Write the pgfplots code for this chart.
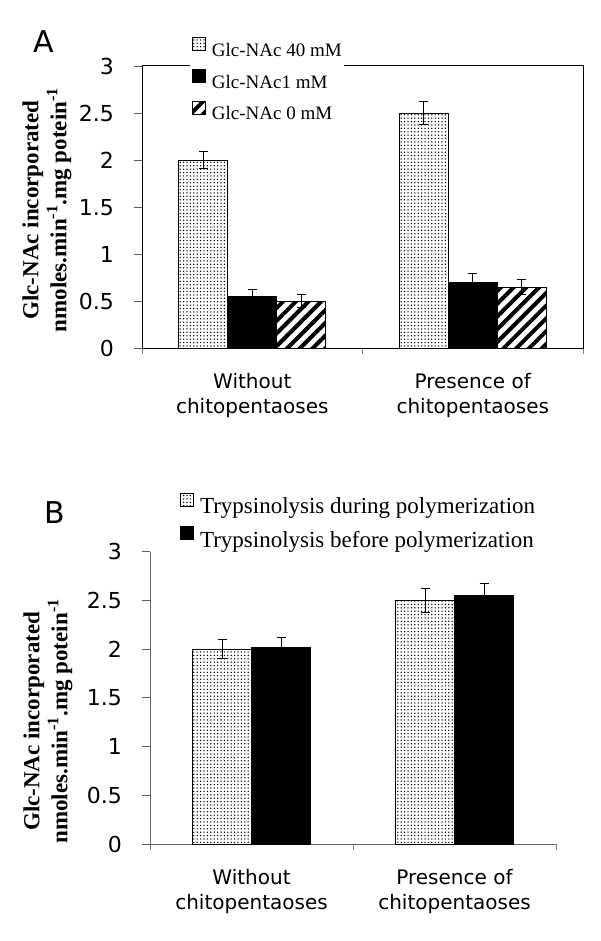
\documentclass[border=0pt]{standalone}
\usepackage{pgfplots}
\pgfplotsset{compat=1.18}
\usepackage{fontspec}
\setmainfont{Liberation Serif}
\newfontfamily\verd{DejaVu Sans}
\usetikzlibrary{patterns,patterns.meta}

\pgfplotsset{
  common/.style={
    scale only axis,
    ybar=0pt,
    xmin=-0.5, xmax=1.5, ymin=0, ymax=3,
    xtick={0,1},
    xticklabels={{Without\\chitopentaoses},{Presence of\\chitopentaoses}},
    minor xtick={-0.5,0.5,1.5},
    ytick={0,0.5,1,1.5,2,2.5,3},
    tick align=outside, xtick pos=bottom, ytick pos=left,
    major x tick style={draw=none},
    minor x tick style={gray, line width=0.8pt},
    minor tick length=6pt, major tick length=8pt,
    y tick style={gray!70!black, line width=0.8pt},
    /pgf/number format/assume math mode=true,
    xticklabel style={font=\verd\fontsize{20}{25}\selectfont, align=center, inner sep=0pt, anchor=north, yshift=-17pt},
    yticklabel style={font=\verd\fontsize{22}{24}\selectfont, inner sep=0pt, anchor=east, xshift=-20pt},
    error bars/y dir=both, error bars/y explicit,
    error bars/error bar style={line width=1pt, black},
    error bars/error mark options={rotate=90, mark size=4.5pt, line width=1pt, black},
    legend image code/.code={\draw[##1, line width=0.8pt] (0pt,0pt) rectangle (13pt,13pt);},
    legend cell align=left,
    ylabel style={anchor=center, align=center, font=\bfseries\fontsize{23}{28}\selectfont},
  },
  dotbar/.style={draw=black, line width=1pt, pattern={Dots[radius=0.75pt, distance=3.4pt]}},
  blackbar/.style={draw=black, line width=1pt, fill=black},
  hatchbar/.style={draw=black, line width=1pt, pattern={Lines[angle=45, distance=9pt, line width=4pt]}},
}

\begin{document}
\begin{tikzpicture}
\path[use as bounding box] (0pt,0pt) rectangle (600pt,-941pt);

\node[font=\verd\fontsize{30}{30}\selectfont] at (44pt,-42pt) {A};
\node[font=\verd\fontsize{30}{30}\selectfont] at (55pt,-513pt) {B};

% Panel A
\begin{axis}[common,
  at={(142pt,-348.3pt)}, anchor=south west,
  width=441pt, height=282.3pt,
  bar width=49pt,
  axis line style={line width=1pt, black},
  ylabel={Glc-NAc incorporated\\nmoles.min\textsuperscript{-1}.mg potein\textsuperscript{-1}},
  ylabel style={at={(axis description cs:-0.2154,0.49)}},
  legend style={at={(axis description cs:0.1088,1.11)}, anchor=north west,
    draw=none, fill=white, inner sep=2pt, row sep=11pt, column sep=6pt,
    nodes={inner sep=0pt},
    font=\fontsize{19}{23}\selectfont},
]
\addplot[dotbar] coordinates {(0,2.0) +- (0,0.09) (1,2.5) +- (0,0.12)};
\addplot[blackbar] coordinates {(0,0.55) +- (0,0.08) (1,0.7) +- (0,0.1)};
\addplot[hatchbar] coordinates {(0,0.5) +- (0,0.07) (1,0.65) +- (0,0.08)};
\legend{Glc-NAc 40 mM, Glc-NAc1 mM, Glc-NAc 0 mM}
\end{axis}

% Panel B
\begin{axis}[common,
  at={(150pt,-844pt)}, anchor=south west,
  width=406pt, height=292.3pt,
  bar width=59pt,
  axis x line*=bottom, axis y line*=left,
  axis line style={line width=0.8pt, gray!80!black},
  ylabel={Glc-NAc incorporated\\nmoles.min\textsuperscript{-1}.mg potein\textsuperscript{-1}},
  ylabel style={at={(axis description cs:-0.2512,0.42)}},
  legend style={at={(axis description cs:0.069,1.2077)}, anchor=north west,
    draw=none, fill=white, inner sep=2pt, row sep=11pt, column sep=6pt,
    nodes={inner sep=0pt},
    font=\fontsize{23}{27}\selectfont},
]
\addplot[dotbar] coordinates {(0,2.0) +- (0,0.1) (1,2.5) +- (0,0.12)};
\addplot[blackbar] coordinates {(0,2.02) +- (0,0.1) (1,2.55) +- (0,0.12)};
\legend{Trypsinolysis during polymerization, Trypsinolysis before polymerization}
\end{axis}
\end{tikzpicture}
\end{document}
